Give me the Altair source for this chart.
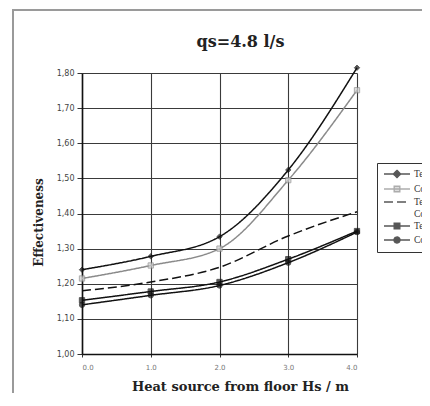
import altair as alt
import pandas as pd

# ---- data ----
x_values = [0, 1, 2, 3, 4]
series_names = [
    "Temperature effectiveness, case 1",
    "Concentration effectiveness, case 1",
    "Temperature / Concentration",
    "Temperature effectiveness, case 2",
    "Concentration effectiveness, case 2",
]
series_a = [1.240, 1.278, 1.334, 1.524, 1.815]
series_b = [1.215, 1.252, 1.300, 1.495, 1.751]
series_c = [1.180, 1.205, 1.247, 1.336, 1.405]
series_d = [1.153, 1.178, 1.205, 1.270, 1.350]
series_e = [1.140, 1.167, 1.195, 1.260, 1.347]
markers = ["diamond", "square", "none", "square", "circle"]

y_ticks = [1.0, 1.1, 1.2, 1.3, 1.4, 1.5, 1.6, 1.7, 1.8]
x_ticks = [0, 1, 2, 3, 4]

title_text = "qs=4.8 l/s"
x_title = "Heat source from floor Hs / m"
y_title = "Effectiveness"

# ---- styles ----
line_colors = ["#111111", "#8a8a8a", "#111111", "#111111", "#111111"]
fill_colors = ["#111111", "#cfcfcf", "#111111", "#111111", "#111111"]
dashes = [[1, 0], [1, 0], [9, 4], [1, 0], [1, 0]]
legend_paths = [
    "M-1,0L5.5,0M2.25,-0.9L3.15,0L2.25,0.9L1.35,0Z",
    "M-1,0L5.5,0M1.55,-0.7L2.95,-0.7L2.95,0.7L1.55,0.7Z",
    "M-1,0L5.5,0",
    "M-1,0L5.5,0M1.55,-0.7L2.95,-0.7L2.95,0.7L1.55,0.7Z",
    "M-1,0L5.5,0M1.5,0A0.75,0.75,0,1,1,3,0A0.75,0.75,0,1,1,1.5,0Z",
]

rows = []
for name, mk, vals in zip(series_names, markers,
                          [series_a, series_b, series_c, series_d, series_e]):
    for xv, yv in zip(x_values, vals):
        rows.append({"series": name, "marker": mk, "x": xv, "y": yv})
df = pd.DataFrame(rows)

x_enc = alt.X("x:Q", scale=alt.Scale(domain=[0, 4], nice=False),
              axis=alt.Axis(values=x_ticks, format=".1f", title=x_title,
                            grid=True, gridColor="#3a3a3a", gridWidth=1.1,
                            domainColor="#111", domainWidth=1.6,
                            tickColor="#333", tickSize=3,
                            labelFont="DejaVu Sans", labelFontSize=7,
                            labelColor="#777", labelPadding=6,
                            titleFont="DejaVu Serif", titleFontSize=13,
                            titleFontWeight="bold", titleColor="#222",
                            titleX=158, titleY=32, titleBaseline="middle"))
y_enc = alt.Y("y:Q", scale=alt.Scale(domain=[1.0, 1.8], nice=False, zero=False),
              axis=alt.Axis(values=y_ticks,
                            labelExpr="replace(format(datum.value, '.2f'), '.', ',')",
                            title=y_title,
                            grid=True, gridColor="#3a3a3a", gridWidth=1.1,
                            domainColor="#111", domainWidth=1.6,
                            tickColor="#333", tickSize=5,
                            labelFont="DejaVu Sans", labelFontSize=8,
                            labelColor="#444", labelPadding=3,
                            titleFont="DejaVu Serif", titleFontSize=12,
                            titleFontWeight="bold", titleColor="#222",
                            titleX=-44, titleY=149, titleBaseline="middle"))

dom = series_names
leg = alt.Legend(title=None, orient="none", legendX=295, legendY=90,
                 strokeColor="#333", padding=6, symbolSize=64,
                 symbolStrokeWidth=1.4, labelOffset=21,
                 labelFont="Liberation Serif", labelFontSize=9.5,
                 labelColor="#333", labelLimit=300, rowPadding=2,
                 labelExpr="datum.label == 'Temperature / Concentration' ? ['Temperature /', '  Concentration'] : datum.label")

frame = alt.Chart(alt.Data(values=[{}])).mark_rect(
    fill="transparent", stroke="#9a9a9a", strokeWidth=2
).encode(x=alt.value(-69), x2=alt.value(420), y=alt.value(-63), y2=alt.value(420))

legend_layer = alt.Chart(df).mark_point(filled=True, size=0, strokeWidth=1.4).encode(
    x=x_enc, y=y_enc,
    color=alt.Color("series:N", scale=alt.Scale(domain=dom, range=fill_colors), legend=leg),
    stroke=alt.Stroke("series:N", scale=alt.Scale(domain=dom, range=line_colors), legend=leg),
    shape=alt.Shape("series:N", scale=alt.Scale(domain=dom, range=legend_paths), legend=leg),
    strokeDash=alt.StrokeDash("series:N", scale=alt.Scale(domain=dom, range=dashes), legend=leg),
)

lines = alt.Chart(df).mark_line(interpolate="monotone", strokeWidth=1.5).encode(
    x=x_enc, y=y_enc,
    stroke=alt.Stroke("series:N", scale=alt.Scale(domain=dom, range=line_colors)),
    strokeDash=alt.StrokeDash("series:N", scale=alt.Scale(domain=dom, range=dashes)),
    detail="series:N",
)

points = alt.Chart(df).transform_filter(alt.datum.marker != "none").mark_point(
    filled=True, size=28, strokeWidth=1
).encode(
    x=x_enc, y=y_enc,
    color=alt.Color("series:N", scale=alt.Scale(domain=dom, range=fill_colors)),
    stroke=alt.Stroke("series:N", scale=alt.Scale(domain=dom, range=line_colors)),
    shape=alt.Shape("marker:N", scale=None),
)

chart = alt.layer(frame, legend_layer, lines, points).properties(
    width=275, height=281,
    title=alt.Title(title_text, font="DejaVu Serif", fontSize=16, fontWeight="bold",
                    color="#222", anchor="middle", frame="group", dx=21, offset=-41),
    autosize=alt.AutoSizeParams(type="none"),
    padding={"left": 74, "top": 65, "right": 65, "bottom": 39},
    background="white",
).configure_view(stroke=None)

chart.save("out.html", embed_options={"renderer": "svg", "actions": False})
